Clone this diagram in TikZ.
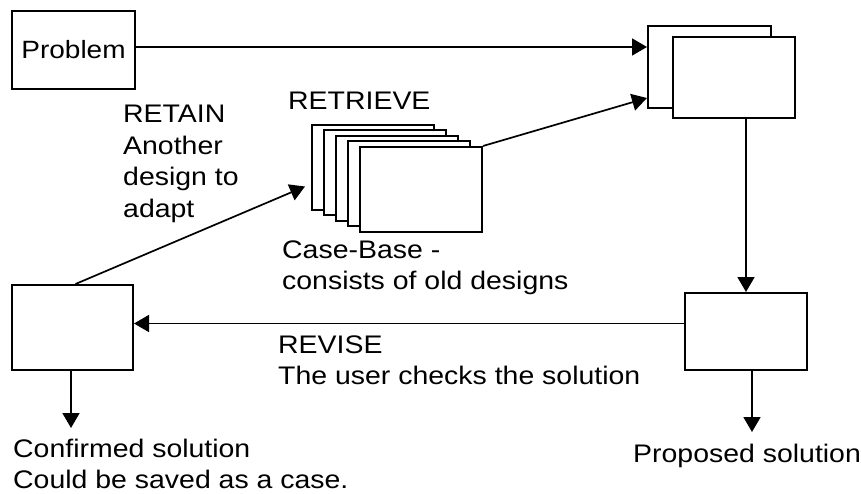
\documentclass[tikz,border=0pt]{standalone}
\usepackage{fontspec}
\setmainfont{Liberation Sans}[FakeStretch=1.12]
\usetikzlibrary{arrows.meta}
\begin{document}
\begin{tikzpicture}[x=1pt,y=-1pt,
  box/.style={draw, line width=2pt, fill=white, inner sep=0pt},
  conn/.style={line width=1.7pt, -{Triangle[length=15pt,width=17pt]}},
  lbl/.style={anchor=base west, inner sep=0pt, align=left, font=\fontsize{25.4}{31.5}\selectfont}]
\useasboundingbox (0,0) rectangle (861,494);
% boxes
\node[box, minimum width=123pt, minimum height=78pt, font=\fontsize{25}{30}\selectfont] (problem) at (73.5,50) {Problem};
\foreach \k in {0,...,4}{
  \node[box, minimum width=122pt, minimum height=85pt] (case\k) at (373+12*\k,167.5+5.5*\k) {};
}
\node[box, minimum width=123pt, minimum height=82pt] (resB) at (709.5,67) {};
\node[box, minimum width=122pt, minimum height=81pt] (resF) at (734,77.5) {};
\node[box, minimum width=122pt, minimum height=77pt] (prop) at (746,331.5) {};
\node[box, minimum width=121pt, minimum height=85pt] (conf) at (72.5,327.5) {};
% labels (base anchor = baseline of last line)
\node[lbl] (retain) at (123,217.5) {RETAIN\\Another\\design to\\adapt};
\node[lbl] (retrieve) at (288,110) {RETRIEVE};
\node[lbl] (casebase) at (282,289.5) {Case-Base -\\consists of old designs};
\node[lbl] (revise) at (278,384.5) {REVISE\\The user checks the solution};
\node[lbl] (confirmed) at (13,488.5) {Confirmed solution\\Could be saved as a case.};
\node[lbl] (proposed) at (633,462) {Proposed solution};
\coordinate (propend) at (752,432);
\coordinate (confend) at (71,428);
% connectors
\draw[conn] ([yshift=3pt]problem.east) -- ([yshift=3pt]problem.east -| resB.west);
\draw[conn] (case4.north east) -- ([yshift=11pt]resB.south west);
\draw[conn] ([xshift=3pt]conf.north) -- ([xshift=-6pt,yshift=-19pt]case0.west);
\draw[conn] (prop.north |- resF.south) -- (prop.north);
\draw[conn] ([yshift=8pt]prop.west) -- ([yshift=8pt]prop.west -| conf.east);
\draw[conn] (propend |- prop.south) -- (propend);
\draw[conn] (confend |- conf.south) -- (confend);
\end{tikzpicture}
\end{document}
